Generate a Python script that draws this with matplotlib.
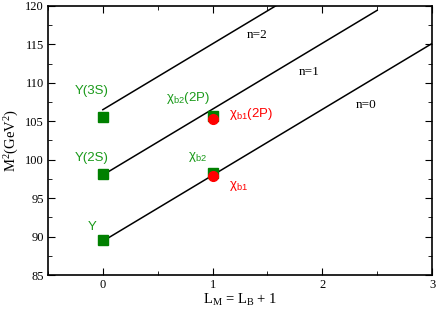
import numpy as np
import matplotlib
matplotlib.use("Agg")
import matplotlib.pyplot as plt
from matplotlib.ticker import MultipleLocator

# Datos (M^2 en GeV^2)
sq_x = [0, 0, 0, 1, 1]
sq_y = [89.5, 98.1, 105.5, 98.3, 105.7]
circ_x = [1, 1]
circ_y = [97.9, 105.3]

# Trayectorias de Regge
slope = 8.57
intercepts = [89.4, 98.0, 106.5]
x_end = [3.0, 2.5, 2.0]
n_labels = ["n=0", "n=1", "n=2"]
n_pos = [(2.40, 107.1), (1.88, 111.4), (1.41, 116.2)]

green_labels = ["Υ", "Υ(2S)", "Υ(3S)", r"$\mathsf{\chi_{b2}}$", r"$\mathsf{\chi_{b2}}$(2P)"]
green_pos = [(-0.1, 91.2), (-0.1, 100.2), (-0.1, 108.9), (0.86, 100.4), (0.78, 108.0)]
red_labels = [r"$\mathsf{\chi_{b1}}$", r"$\mathsf{\chi_{b1}}$(2P)"]
red_pos = [(1.24, 96.6), (1.35, 106.0)]

plt.rcParams["font.family"] = "Liberation Serif"
plt.rcParams["mathtext.fontset"] = "custom"
plt.rcParams["mathtext.rm"] = "Liberation Serif"
plt.rcParams["mathtext.it"] = "Liberation Serif"
plt.rcParams["mathtext.sf"] = "Liberation Sans"

fig = plt.figure(figsize=(4.36, 3.09), dpi=100)
ax = fig.add_axes([0.110, 0.110, 0.881, 0.871])

for b, xe in zip(intercepts, x_end):
    xs = np.array([0, xe])
    ax.plot(xs, b + slope * xs, color="black", lw=1.1)

ax.plot(sq_x, sq_y, "s", color="green", ms=7, ls="none", zorder=3)
ax.plot(circ_x, circ_y, "o", color="red", ms=7, ls="none", zorder=4)

for t, (x, y) in zip(n_labels, n_pos):
    ax.text(x, y, t, ha="center", va="center", fontsize=9.5, family="Liberation Serif")
for t, (x, y) in zip(green_labels, green_pos):
    ax.text(x, y, t, ha="center", va="center", fontsize=9.5, color="#1a9a1a",
            family="Liberation Sans")
for t, (x, y) in zip(red_labels, red_pos):
    ax.text(x, y, t, ha="center", va="center", fontsize=9.5, color="red",
            family="Liberation Sans")

ax.set_xlim(-0.5, 3)
ax.set_ylim(85, 120)
ax.xaxis.set_major_locator(MultipleLocator(1))
ax.xaxis.set_minor_locator(MultipleLocator(0.5))
ax.yaxis.set_major_locator(MultipleLocator(5))
ax.yaxis.set_minor_locator(MultipleLocator(2.5))
ax.tick_params(which="both", direction="in", top=True, right=True, labelsize=9, pad=3)
ax.tick_params(which="major", length=5)
ax.tick_params(which="minor", length=3)
for s in ax.spines.values():
    s.set_linewidth(1.2)

ax.set_xlabel(r"L$_\mathrm{M}$ = L$_\mathrm{B}$ + 1", fontsize=10.5)
ax.set_ylabel(r"M$^2$(GeV$^2$)", fontsize=10.5)
ax.xaxis.set_label_coords(0.5, -0.062)
ax.yaxis.set_label_coords(-0.07, 0.5)

fig.savefig("out.png", dpi=100)
